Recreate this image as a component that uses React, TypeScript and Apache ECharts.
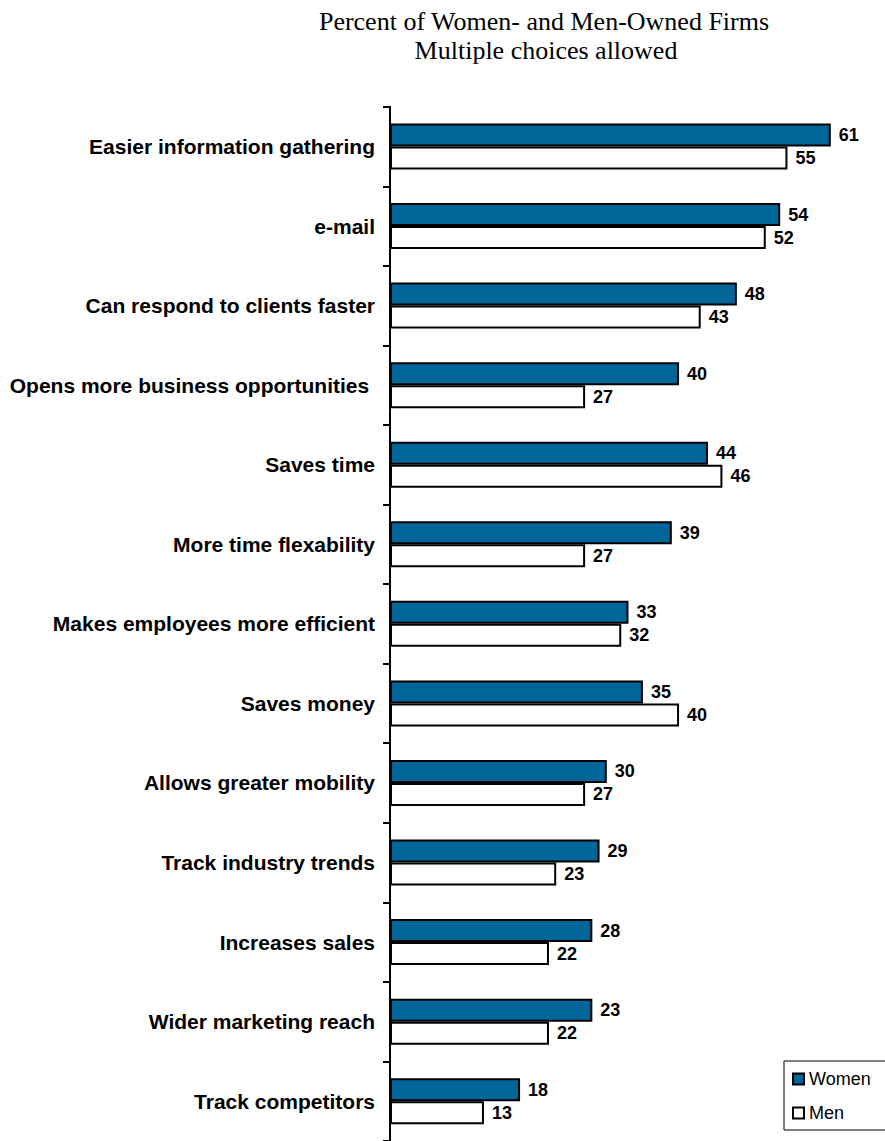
import React, { useEffect, useRef } from "react";
import * as echarts from "echarts";

const categories = [
  "Easier information gathering",
  "e-mail",
  "Can respond to clients faster",
  "Opens more business opportunities ",
  "Saves time",
  "More time flexability",
  "Makes employees more efficient",
  "Saves money",
  "Allows greater mobility",
  "Track industry trends",
  "Increases sales",
  "Wider marketing reach",
  "Track competitors",
];
// bar lengths as drawn in the picture
const womenValues = [61, 54, 48, 40, 44, 39, 33, 35, 30, 29, 28, 28, 18];
// labels printed next to the women bars
const womenLabels = ["61", "54", "48", "40", "44", "39", "33", "35", "30", "29", "28", "23", "18"];
const menValues = [55, 52, 43, 27, 46, 27, 32, 40, 27, 23, 22, 22, 13];
const titleLines = ["Percent of Women- and Men-Owned Firms", "Multiple choices allowed"];

export default function App() {
  const ref = useRef<HTMLDivElement>(null);
  useEffect(() => {
    if (!ref.current) return;
    const chart = echarts.init(ref.current, undefined, { renderer: "svg" });
    const labelFont = { fontFamily: "Liberation Sans, Arial, sans-serif", fontWeight: "bold" as const, color: "#000" };
    chart.setOption({
      animation: false,
      backgroundColor: "#fff",
      graphic: [
        {
          type: "text",
          x: 544,
          y: 21,
          style: { text: titleLines[0], fontFamily: "Liberation Serif, Times New Roman, serif", fontSize: 26, fill: "#000", textAlign: "center", textVerticalAlign: "middle" },
        },
        {
          type: "text",
          x: 546,
          y: 50,
          style: { text: titleLines[1], fontFamily: "Liberation Serif, Times New Roman, serif", fontSize: 26, fill: "#000", textAlign: "center", textVerticalAlign: "middle" },
        },
      ],
      legend: {
        orient: "vertical",
        left: 784,
        top: 1061,
        padding: [9, 40, 8, 8],
        borderColor: "#000",
        borderWidth: 1,
        itemWidth: 11,
        itemHeight: 11,
        itemGap: 16,
        textStyle: { fontFamily: "Liberation Sans, Arial, sans-serif", fontSize: 18, color: "#000" },
        data: [
          { name: "Women", icon: "rect" },
          { name: "Men", icon: "rect" },
        ],
      },
      grid: { left: 390, top: 106.7, right: 0, bottom: -3 },
      xAxis: { type: "value", min: 0, max: 68.5, show: false, splitLine: { show: false } },
      yAxis: {
        type: "category",
        inverse: true,
        data: categories,
        axisLine: { show: true, lineStyle: { color: "#000", width: 2 } },
        axisTick: { show: true, length: 7, lineStyle: { color: "#000", width: 2 } },
        axisLabel: { ...labelFont, fontSize: 21, margin: 15 },
      },
      series: [
        {
          name: "Women",
          type: "bar",
          data: womenValues,
          barWidth: 23,
          barGap: "0%",
          itemStyle: { color: "#006699", borderColor: "#000", borderWidth: 2 },
          label: {
            show: true,
            position: "right",
            distance: 8,
            ...labelFont,
            fontSize: 18,
            formatter: (p: any) => womenLabels[p.dataIndex],
          },
        },
        {
          name: "Men",
          type: "bar",
          data: menValues,
          barWidth: 23,
          barGap: "0%",
          itemStyle: { color: "#fff", borderColor: "#000", borderWidth: 2 },
          label: { show: true, position: "right", distance: 8, ...labelFont, fontSize: 18 },
        },
      ],
    });
    return () => chart.dispose();
  }, []);
  return <div ref={ref} style={{ position: "absolute", left: 0, top: 0, width: 885, height: 1141 }} />;
}
